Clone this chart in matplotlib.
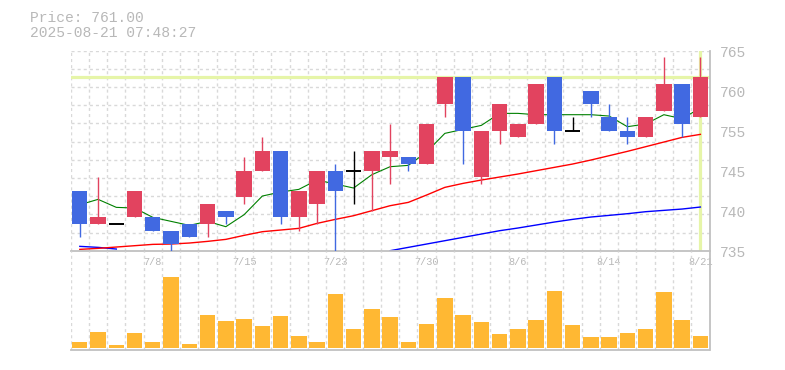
import numpy as np
import matplotlib.pyplot as plt
from matplotlib.transforms import blended_transform_factory

dates = ['7/2', '7/3', '7/4', '7/7', '7/8', '7/9', '7/10', '7/11', '7/14', '7/15',
         '7/16', '7/17', '7/18', '7/22', '7/23', '7/24', '7/25', '7/28', '7/29', '7/30',
         '7/31', '8/1', '8/4', '8/5', '8/6', '8/7', '8/8', '8/12', '8/13', '8/14',
         '8/15', '8/18', '8/19', '8/20', '8/21']
opens = [744, 739, 739, 740, 740, 738, 739, 739, 741, 743,
         747, 750, 740, 742, 747, 747, 747, 749, 749, 748,
         757, 761, 746, 753, 752, 754, 761, 753, 759, 755,
         753, 752, 756, 760, 755]
highs = [744, 746, 739, 744, 740, 738, 739, 742, 741, 749,
         752, 750, 744, 747, 748, 750, 750, 754, 749, 754,
         761, 761, 753, 757, 754, 760, 761, 755, 759, 757,
         755, 755, 764, 760, 764]
lows = [737, 739, 739, 740, 738, 735, 737, 737, 739, 742,
        747, 739, 738, 739, 735, 742, 741, 745, 747, 748,
        755, 748, 745, 751, 752, 754, 751, 753, 755, 753,
        751, 752, 756, 752, 755]
closes = [739, 740, 739, 744, 738, 736, 737, 742, 740, 747,
          750, 740, 744, 747, 744, 747, 750, 750, 748, 754,
          761, 753, 753, 757, 754, 760, 753, 753, 757, 753,
          752, 755, 760, 754, 761]
ma5 = [741.9, 742.7, 741.5, 741.4, 740.0, 739.4, 738.8, 739.4, 738.6, 740.4,
       743.2, 743.8, 744.2, 745.6, 745.0, 744.4, 746.4, 747.6, 747.8, 749.8,
       752.6, 753.2, 753.8, 755.6, 755.6, 755.4, 755.4, 755.4, 755.4, 755.2,
       753.6, 754.0, 755.4, 754.8, 756.4]
ma25 = [735.2, 735.35, 735.55, 735.75, 735.95, 736.0, 736.15, 736.4, 736.7, 737.3,
        737.85, 738.1, 738.35, 739.1, 739.7, 740.25, 741.0, 741.75, 742.25, 743.35,
        744.5, 745.1, 745.6, 746.05, 746.5, 747.0, 747.5, 748.0, 748.6, 749.25,
        749.9, 750.6, 751.3, 752.0, 752.45]
nan = np.nan
ma75 = [735.65, 735.5, 735.25, nan, nan, nan, nan, nan, nan, nan,
        nan, nan, nan, nan, nan, nan, nan, 735.0, 735.5, 736.0,
        736.5, 737.0, 737.5, 738.0, 738.4, 738.85, 739.3, 739.7, 740.05, 740.3,
        740.55, 740.85, 741.05, 741.25, 741.55]
volume = [6300, 16300, 3300, 15300, 6300, 71700, 4300, 33300, 27300, 29300,
          22300, 32300, 12300, 6300, 54300, 19300, 39300, 31300, 6300, 24300,
          50300, 33300, 26300, 14300, 19300, 28300, 57300, 23300, 11300, 11300,
          15300, 19300, 56300, 28300, 12300]
last_price = 761.00
stamp = '2025-08-21 07:48:27'
ytick_text = ['765', '760', '755', '745', '740', '735']

plt.rcParams['lines.scale_dashes'] = False
mono = 'Liberation Mono'
up_col = '#e2435f'
down_col = '#4169e1'
grid_col = '#d9d9d9'
axis_col = '#c0c0c0'
txt_col = '#b8b8b8'

fig = plt.figure(figsize=(7.85, 3.7), dpi=100)
W, H = 785, 370
left, right = 70.7 / W, 709.5 / W
ax = fig.add_axes([left, (H - 250.7) / H, right - left, 200 / H])
axv = fig.add_axes([left, (H - 350) / H, right - left, 99 / H])
axv.set_facecolor('none')

n = len(closes)
x = np.arange(n)

# price panel
ax.set_xlim(-0.5, n - 0.5)
ax.set_ylim(735, 765)
for gy in np.linspace(735, 765, 12)[1:]:
    ax.axhline(gy, color=grid_col, lw=1.0, ls=(0, (2.2, 2.2)), zorder=0.5)
for gx in np.arange(n) - 0.5:
    ax.axvline(gx, color=grid_col, lw=1.0, ls=(0, (2.2, 2.2)), zorder=0.5)

ax.axhline(last_price, color='#e6f5a8', lw=2.3, zorder=1)
ax.axvline(n - 1, color='#e6f5a8', lw=2.3, zorder=1)

ax.plot(x, ma75, color='#0000ff', lw=1.0, zorder=2)
ax.plot(x, ma25, color='#ff0000', lw=1.0, zorder=2)
ax.plot(x, ma5, color='#008000', lw=0.8, zorder=2)

for i in range(n):
    o, h, l, c = opens[i], highs[i], lows[i], closes[i]
    if c > o:
        col = up_col
    elif c < o:
        col = down_col
    else:
        col = 'black'
    ax.vlines(i, l, h, color=col, lw=1.0, zorder=3)
    if c == o:
        ax.hlines(c, i - 0.42, i + 0.42, color=col, lw=1.4, zorder=4)
    else:
        ax.bar(i, abs(c - o), bottom=min(o, c), width=0.84, color=col, zorder=4)

ax.set_xticks([])
ax.set_yticks([])
for s in ['left', 'top']:
    ax.spines[s].set_visible(False)
for s in ['bottom', 'right']:
    ax.spines[s].set_color(axis_col)
    ax.spines[s].set_linewidth(1.3)

tr = blended_transform_factory(ax.transAxes, ax.transData)
for k, lab in enumerate(ytick_text):
    ax.text(1 + 10.5 / 639, 765 - k * 6 - 0.4, lab, transform=tr, ha='left', va='center',
            family=mono, fontsize=10.5, color=txt_col, clip_on=False)

trx = blended_transform_factory(ax.transData, ax.transAxes)
for i in range(4, n, 5):
    ax.text(i, -11.5 / 200, dates[i], transform=trx, ha='center', va='center',
            family=mono, fontsize=7.4, color=txt_col, clip_on=False)

# volume panel
axv.set_xlim(-0.5, n - 0.5)
axv.set_ylim(-1700, 97300)
for gx in np.arange(n) - 0.5:
    axv.axvline(gx, color=grid_col, lw=1.0, ls=(0, (2.2, 2.2)), zorder=0.5)
axv.bar(x, volume, width=0.84, color='#ffb833', zorder=2)
axv.set_xticks([])
axv.set_yticks([])
for s in ['left', 'top']:
    axv.spines[s].set_visible(False)
for s in ['bottom', 'right']:
    axv.spines[s].set_color(axis_col)
    axv.spines[s].set_linewidth(1.3)

fig.text(30 / W, 1 - 18 / H, 'Price: %.2f' % last_price, family=mono, fontsize=10.5,
         color=txt_col, va='center', ha='left')
fig.text(30 / W, 1 - 33 / H, stamp, family=mono, fontsize=10.5,
         color=txt_col, va='center', ha='left')

fig.savefig('out.png', dpi=100)
